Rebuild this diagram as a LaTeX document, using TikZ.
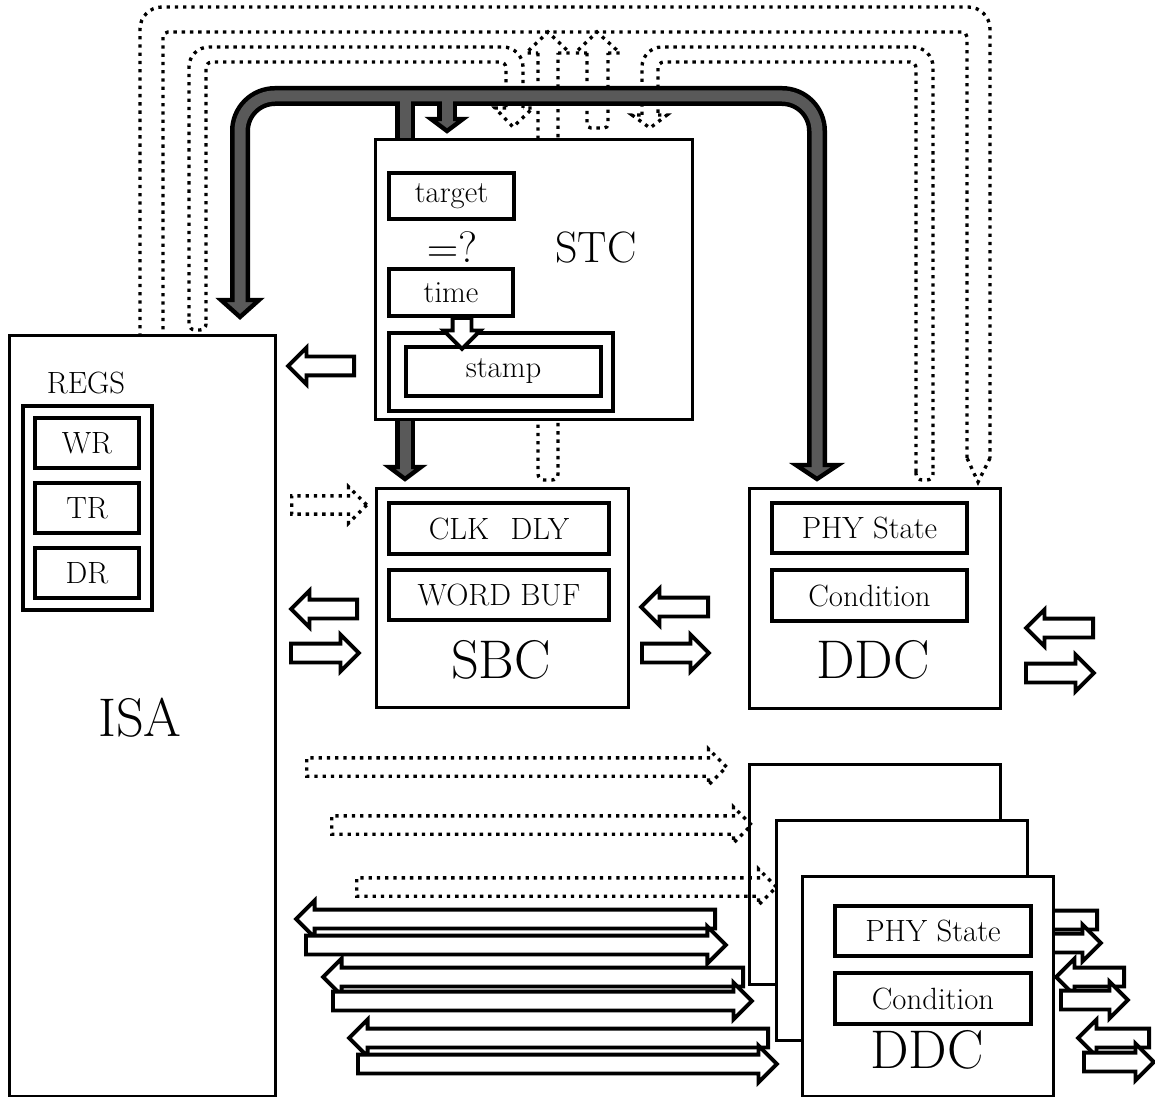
\documentclass[tikz,border=0pt]{standalone}
\usepackage{tikz}
\usetikzlibrary{positioning, arrows.meta, calc, shapes.arrows}

\definecolor{busgray}{RGB}{89,89,89}

\begin{document}
\begin{tikzpicture}[
        x=0.02cm, y=-0.02cm,
        box/.style={rectangle, draw, line width=1.7pt, fill=white, anchor=north west, inner sep=0pt},
        reg/.style={rectangle, draw, line width=2.3pt, fill=white, anchor=north west, inner sep=0pt, font=\fontsize{17.5}{20}\selectfont},
        biglabel/.style={font=\fontsize{31}{36}\selectfont, inner sep=0pt},
        midlabel/.style={font=\fontsize{25}{29}\selectfont, inner sep=0pt},
        smalllabel/.style={font=\fontsize{17.5}{20}\selectfont, inner sep=0pt},
        blk/.style={single arrow, draw, fill=white, line width=2.2pt, inner sep=0pt, inner ysep=0.15cm,
            single arrow head extend=0.18cm, single arrow tip angle=90, anchor=tail},
        larrow/.style={blk, rotate=180},
        rarrow/.style={blk},
        darrow/.style={blk, rotate=-90},
        dotarrow/.style={blk, fill=none, line width=1.9pt, dash pattern=on 1.9pt off 2.8pt},
        dots/.style={draw, line width=1.9pt, dash pattern=on 1.9pt off 2.8pt},
        bus/.style={draw, line width=0.4cm, black},
        buscore/.style={draw, line width=0.22cm, busgray},
        bushead/.style={draw, line width=2.5pt, fill=busgray}
    ]
    \useasboundingbox (0,0) rectangle (1155,1097);

    % Dotted buses (outlines)
    % ISA <-> DDC
    \draw[dots, rounded corners=0.44cm] (140,345) -- (140,7) -- (990,7) -- (990,458);
    \draw[dots, rounded corners=0.1cm] (967,458) -- (967,32) -- (163,32) -- (163,345);
    \draw[dots] (990,458) -- (978,482) -- (967,458);
    % ISA -> STC
    \draw[dots, rounded corners=0.12cm] (206,320) -- (206,62) -- (506,62) -- (506,108);
    \draw[dots, rounded corners=0.4cm] (523,108) -- (523,47) -- (189,47) -- (189,320);
    \draw[dots] (506,108) -- (495,108) -- (513,127) -- (533,108) -- (523,108);
    \draw[dots, rounded corners=0.12cm] (189,320) -- (189,330) -- (206,330) -- (206,320);
    % DDC -> STC
    \draw[dots, rounded corners=0.12cm] (916,472) -- (916,62) -- (658,62) -- (658,115);
    \draw[dots, rounded corners=0.4cm] (642,115) -- (642,47) -- (933,47) -- (933,472);
    \draw[dots] (658,115) -- (667,115) -- (650,128) -- (632,115) -- (642,115);
    \draw[dots, rounded corners=0.12cm] (916,472) -- (916,480) -- (933,480) -- (933,472);
    % SBC -> bus, STC -> bus
    \draw[dots, rounded corners=0.12cm] (538,53) -- (538,480) -- (558,480) -- (558,53);
    \draw[dots] (558,53) -- (570,53) -- (548,32) -- (526,53) -- (538,53);
    \draw[dots, rounded corners=0.08cm] (587,53) -- (587,128) -- (608,128) -- (608,53);
    \draw[dots] (608,53) -- (620,53) -- (597,32) -- (575,53) -- (587,53);

    % Gray bus
    \coordinate (busISA) at (240,300);
    \coordinate (busDDC) at (817,465);
    \coordinate (busSBC) at (405,467);
    \coordinate (busSTC) at (447,119);
    \draw[bus, rounded corners=0.7cm] (busISA) -- (240,96) -- (817,96) -- (busDDC);
    \draw[bus] (405,96) -- (busSBC);
    \draw[bus] (447,96) -- (busSTC);
    \draw[bushead] (221,300) -- (259,300) -- (240,317) -- cycle;
    \draw[bushead] (796,465) -- (838,465) -- (817,479) -- cycle;
    \draw[bushead] (389,467) -- (421,467) -- (405,479) -- cycle;
    \draw[bushead] (431,119) -- (463,119) -- (447,131) -- cycle;
    \draw[buscore, rounded corners=0.7cm] ($(busISA)+(0,3)$) -- (240,96) -- (817,96) -- ($(busDDC)+(0,3)$);
    \draw[buscore] (405,96) -- ($(busSBC)+(0,3)$);
    \draw[buscore] (447,96) -- ($(busSTC)+(0,3)$);

    % ISA
    \node[box, minimum width=5.32cm, minimum height=15.22cm] (ISA) at (8,334) {};
    \node[biglabel] (isalabel) at (140,718) {ISA};
    \node[smalllabel] (regslabel) at (86,383) {REGS};
    \node[reg, minimum width=2.58cm, minimum height=4.08cm] (regs) at (21,404) {};
    \node[reg, minimum width=2.08cm, minimum height=1cm] (wr) at (33,416) {WR};
    \node[reg, minimum width=2.08cm, minimum height=1cm, below=0.22cm of wr] (tr) {TR};
    \node[reg, minimum width=2.08cm, minimum height=1cm, below=0.22cm of tr] (dr) {DR};

    % STC
    \node[box, minimum width=6.34cm, minimum height=5.6cm] (STC) at (374,138) {};
    \node[midlabel] (stclabel) at (596,248) {STC};
    \node[reg, minimum width=2.5cm, minimum height=0.92cm] (target) at (387,171) {target};
    \node[midlabel] (cmp) at (452,247) {$=$?};
    \node[reg, minimum width=2.48cm, minimum height=0.94cm] (time) at (387,267) {time};
    \node[reg, minimum width=4.48cm, minimum height=1.56cm] (stampout) at (387,331) {};
    \node[reg, minimum width=3.9cm, minimum height=0.98cm] (stamp) at (404,345) {stamp};
    \node[darrow, minimum height=0.62cm] (tsarrow) at (462,316) {};

    % SBC
    \node[box, minimum width=5.04cm, minimum height=4.38cm] (SBC) at (375,487) {};
    \node[reg, minimum width=4.4cm, minimum height=1.02cm] (clkdly) at (387,501) {CLK\hspace{0.7em}DLY};
    \node[reg, minimum width=4.4cm, minimum height=1cm, below=0.24cm of clkdly] (wordbuf) {WORD BUF};
    \node[biglabel] (sbclabel) at (501,660) {SBC};

    % DDC
    \node[box, minimum width=5.02cm, minimum height=4.4cm] (DDC) at (748,487) {};
    \node[reg, minimum width=3.9cm, minimum height=1cm] (phy) at (770,501) {PHY State};
    \node[reg, minimum width=3.9cm, minimum height=1.02cm, below=0.26cm of phy] (cond) {Condition};
    \node[biglabel] (ddclabel) at (873,660) {DDC};

    % Block arrows around SBC / DDC
    \node[larrow, minimum height=1.32cm] (stcisa) at (356,366) {};
    \node[dotarrow, minimum height=1.5cm] (isasbcd) at (290,505) {};
    \node[larrow, minimum height=1.32cm] (sbcisa) at (359,609) {};
    \node[rarrow, minimum height=1.36cm] (isasbc) at (289,653) {};
    \node[larrow, minimum height=1.34cm] (ddcsbc) at (710,607) {};
    \node[rarrow, minimum height=1.34cm] (sbcddc) at (640,653) {};
    \node[larrow, minimum height=1.34cm] (ddcin) at (1095,628) {};
    \node[rarrow, minimum height=1.36cm] (ddcout) at (1024,673) {};

    % Long arrows to the DDC stack
    \node[larrow, minimum height=8.38cm] (l1) at (717,919) {};
    \node[rarrow, minimum height=8.4cm] (r1) at (304,945) {};
    \node[larrow, minimum height=8.4cm] (l2) at (745,977) {};
    \node[rarrow, minimum height=8.38cm] (r2) at (331,1001) {};
    \node[larrow, minimum height=8.38cm] (l3) at (770,1038) {};
    \node[rarrow, minimum height=8.38cm] (r3) at (356,1064) {};

    % Outputs of the DDC stack
    \node[larrow, minimum height=1.34cm] (ra1) at (1099,920) {};
    \node[rarrow, minimum height=1.34cm] (rb1) at (1032,943) {};
    \node[larrow, minimum height=1.36cm] (ra2) at (1126,977) {};
    \node[rarrow, minimum height=1.34cm] (rb2) at (1059,1000) {};
    \node[larrow, minimum height=1.42cm] (ra3) at (1151,1038) {};
    \node[rarrow, minimum height=1.4cm] (rb3) at (1082,1062) {};

    % DDC stack
    \node[box, minimum width=5.02cm, minimum height=4.4cm] (DDCa) at (748,763) {};
    \node[box, minimum width=5.02cm, minimum height=4.4cm] (DDCb) at (775,819) {};
    \node[box, minimum width=5.02cm, minimum height=4.4cm] (DDCc) at (801,875) {};
    \node[reg, minimum width=3.92cm, minimum height=1cm] (phyc) at (833,904) {PHY State};
    \node[reg, minimum width=3.92cm, minimum height=1.02cm, below=0.26cm of phyc] (condc) {Condition};
    \node[biglabel] (ddcclabel) at (927,1050) {DDC};

    % Dotted arrows to the DDC stack
    \node[dotarrow, minimum height=8.4cm] (d1) at (305,767) {};
    \node[dotarrow, minimum height=8.4cm] (d2) at (330,825) {};
    \node[dotarrow, minimum height=8.4cm] (d3) at (355,887) {};
\end{tikzpicture}
\end{document}
